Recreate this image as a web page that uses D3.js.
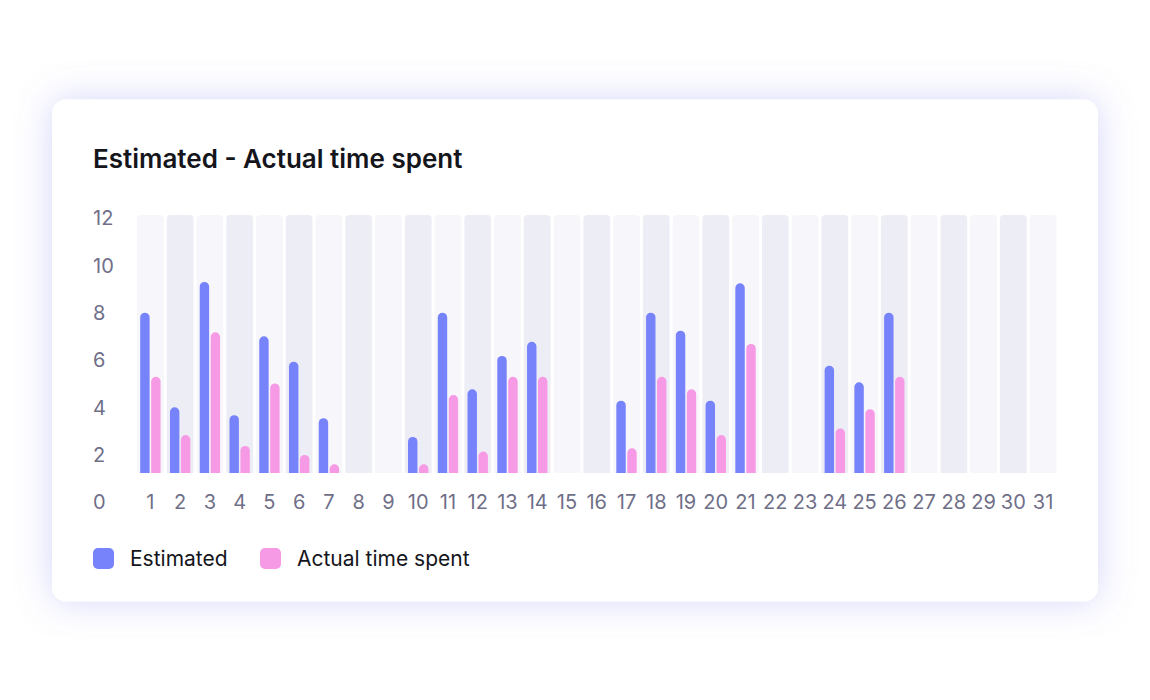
<!DOCTYPE html>
<html>
<head>
<meta charset="utf-8">
<script src="https://cdn.jsdelivr.net/npm/d3@7"></script>
<style>
  html, body { margin: 0; padding: 0; background: #ffffff; }
  svg { display: block; font-family: Inter, "Noto Sans", sans-serif; }
</style>
</head>
<body>
<svg id="chart" width="1150" height="700"></svg>
<script>
const days = d3.range(1, 32);
const estimated = [8.0, 4.0, 9.3, 3.67, 7.0, 5.93, 3.54, null, null, 2.75, 8.0, 4.76, 6.17, 6.77, null, null, 4.28, 8.0, 7.24, 4.28, 9.24, null, null, 5.76, 5.06, 8.0, null, null, null, null, null];
const actual    = [5.29, 2.83, 7.17, 2.37, 5.01, 1.99, 1.59, null, null, 1.59, 4.52, 2.13, 5.29, 5.29, null, null, 2.27, 5.29, 4.76, 2.83, 6.68, null, null, 3.11, 3.92, 5.29, null, null, null, null, null];
const yTicks = [0, 2, 4, 6, 8, 10, 12];
const seriesNames = ["Estimated", "Actual time spent"];
const seriesColors = ["#7783fb", "#f79ae5"];

const svg = d3.select("#chart");
const defs = svg.append("defs");
const f = defs.append("filter").attr("id", "glow").attr("x", "-20%").attr("y", "-40%").attr("width", "140%").attr("height", "180%");
f.append("feGaussianBlur").attr("in", "SourceAlpha").attr("stdDeviation", 18).attr("result", "b");
f.append("feFlood").attr("flood-color", "#7b7ff0").attr("flood-opacity", 0.32);
f.append("feComposite").attr("in2", "b").attr("operator", "in").attr("result", "s");
const m = f.append("feMerge");
m.append("feMergeNode").attr("in", "s");
m.append("feMergeNode").attr("in", "SourceGraphic");

// card
svg.append("rect").attr("x", 52).attr("y", 99.5).attr("width", 1046).attr("height", 502)
  .attr("rx", 14).attr("fill", "#ffffff").attr("filter", "url(#glow)");

// title
svg.append("text").attr("x", 93).attr("y", 168).attr("font-size", 26).attr("font-weight", 600)
  .attr("fill", "#15151c").text("Estimated - Actual time spent");

const plotTop = 215, plotBottom = 473;
const x = d3.scaleBand().domain(days).range([137, 1056.5]).paddingInner(0.1).paddingOuter(0);
const x1 = d3.scaleBand().domain([0, 1]).range([3.2, x.bandwidth() - 3.2]).paddingInner(0.14);
const y = d3.scaleLinear().domain([0, 12]).range([502, 218]);

// column backgrounds
function topRounded(x0, y0, w, h, r) {
  return `M${x0},${y0 + h}L${x0},${y0 + r}Q${x0},${y0} ${x0 + r},${y0}L${x0 + w - r},${y0}Q${x0 + w},${y0} ${x0 + w},${y0 + r}L${x0 + w},${y0 + h}Z`;
}
svg.append("g").selectAll("path").data(days).join("path")
  .attr("d", d => topRounded(x(d), plotTop, x.bandwidth(), plotBottom - plotTop, 4))
  .attr("fill", (d, i) => i % 2 === 0 ? "#f7f7fb" : "#ededf6");

// y axis labels
svg.append("g").selectAll("text").data(yTicks).join("text")
  .attr("x", 93).attr("y", d => y(d)).attr("dy", "0.36em")
  .attr("font-size", 20).attr("fill", "#6f6f88").text(d => d);

// x axis labels
svg.append("g").selectAll("text").data(days).join("text")
  .attr("x", d => x(d) + x.bandwidth() / 2).attr("y", 502).attr("dy", "0.36em")
  .attr("text-anchor", "middle").attr("font-size", 20).attr("fill", "#6f6f88").text(d => d);

// bars
function capBar(x0, top, w, bottom) {
  const r = w / 2;
  return `M${x0},${bottom}L${x0},${top + r}A${r},${r} 0 0 1 ${x0 + w},${top + r}L${x0 + w},${bottom}Z`;
}
[estimated, actual].forEach((series, si) => {
  svg.append("g").selectAll("path")
    .data(days.map((d, i) => ({ d, v: series[i] })).filter(o => o.v != null))
    .join("path")
    .attr("d", o => capBar(x(o.d) + x1(si), y(o.v), x1.bandwidth(), plotBottom))
    .attr("fill", seriesColors[si]);
});

// legend
const legendX = [93, 260];
const lg = svg.append("g");
seriesNames.forEach((name, i) => {
  lg.append("rect").attr("x", legendX[i]).attr("y", 548).attr("width", 21).attr("height", 21)
    .attr("rx", 5).attr("fill", seriesColors[i]);
  lg.append("text").attr("x", legendX[i] + 37).attr("y", 558.5).attr("dy", "0.36em")
    .attr("font-size", 21).attr("fill", "#15151c").text(name);
});
</script>
</body>
</html>
